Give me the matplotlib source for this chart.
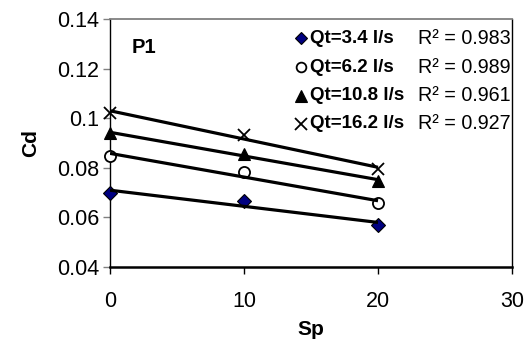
import numpy as np
import matplotlib
matplotlib.use("Agg")
import matplotlib.pyplot as plt
from matplotlib.ticker import FuncFormatter, MultipleLocator

plt.rcParams['font.family'] = ['Liberation Sans', 'DejaVu Sans']

# data
sp = [0, 10, 20]
cd_qt34 = [0.0699, 0.0666, 0.0569]
cd_qt62 = [0.0848, 0.0783, 0.0657]
cd_qt108 = [0.0939, 0.0856, 0.0748]
cd_qt162 = [0.1022, 0.0932, 0.0794]

series_labels = ["Qt=3.4 l/s", "Qt=6.2 l/s", "Qt=10.8 l/s", "Qt=16.2 l/s"]
r2_labels = ["R² = 0.983", "R² = 0.989", "R² = 0.961", "R² = 0.927"]
series = [cd_qt34, cd_qt62, cd_qt108, cd_qt162]

# marker styles (marker, size, face, edge, edge width)
styles = [
    ("D", 7, "#000080", "black", 0.8),
    ("o", 8, "white", "black", 1.3),
    ("^", 9, "black", "black", 0.8),
    ("x", 9, "black", "black", 1.3),
]

fig = plt.figure(figsize=(5.25, 3.4), dpi=100)
ax = fig.add_axes([110 / 525, 1 - 267 / 340, 402 / 525, 248 / 340])

x = np.array(sp, dtype=float)
for vals, (m, ms, fc, ec, mew) in zip(series, styles):
    y = np.array(vals)
    ax.plot(x, y, linestyle="none", marker=m, markersize=ms,
            markerfacecolor=fc, markeredgecolor=ec, markeredgewidth=mew,
            clip_on=False, zorder=3)
    # linear trendline like excel
    k, b = np.polyfit(x, y, 1)
    xx = np.array([x.min(), x.max()])
    ax.plot(xx, k * xx + b, color="black", linewidth=2.3, zorder=4,
            solid_capstyle="butt")

ax.set_xlim(0, 30)
ax.set_ylim(0.04, 0.14)
ax.xaxis.set_major_locator(MultipleLocator(10))
ax.yaxis.set_major_locator(MultipleLocator(0.02))
ax.yaxis.set_major_formatter(FuncFormatter(lambda v, p: f"{v:g}"))

ax.tick_params(axis="both", labelsize=15.5, direction="out", length=5)
ax.tick_params(axis="y", color="#808080", width=1.0, pad=3)
ax.tick_params(axis="x", color="black", width=1.0, pad=12)

ax.spines["left"].set_linewidth(1.0)
ax.spines["bottom"].set_linewidth(1.8)
ax.spines["right"].set_linewidth(1.0)
ax.spines["top"].set_color("#808080")
ax.spines["top"].set_linewidth(1.3)

ax.set_xlabel("Sp", fontsize=15, fontweight="bold", labelpad=6)
ax.set_ylabel("Cd", fontsize=15, fontweight="bold", labelpad=12)

ax.text(0.055, 0.887, "P1", transform=ax.transAxes, fontsize=14.5,
        fontweight="bold", va="center", ha="left")

# hand-made legend in the top right
rows_y = [0.923, 0.806, 0.690, 0.577]
for ry, lab, r2, (m, ms, fc, ec, mew) in zip(rows_y, series_labels, r2_labels, styles):
    ax.plot([0.474], [ry], transform=ax.transAxes, linestyle="none", marker=m,
            markersize=ms - 1, markerfacecolor=fc, markeredgecolor=ec,
            markeredgewidth=mew, clip_on=False)
    ax.text(0.4975, ry, lab, transform=ax.transAxes, fontsize=13.5,
            fontweight="bold", va="center", ha="left")
    ax.text(0.766, ry, r2, transform=ax.transAxes, fontsize=14.2,
            va="center", ha="left")

fig.savefig("out.png", dpi=100)
